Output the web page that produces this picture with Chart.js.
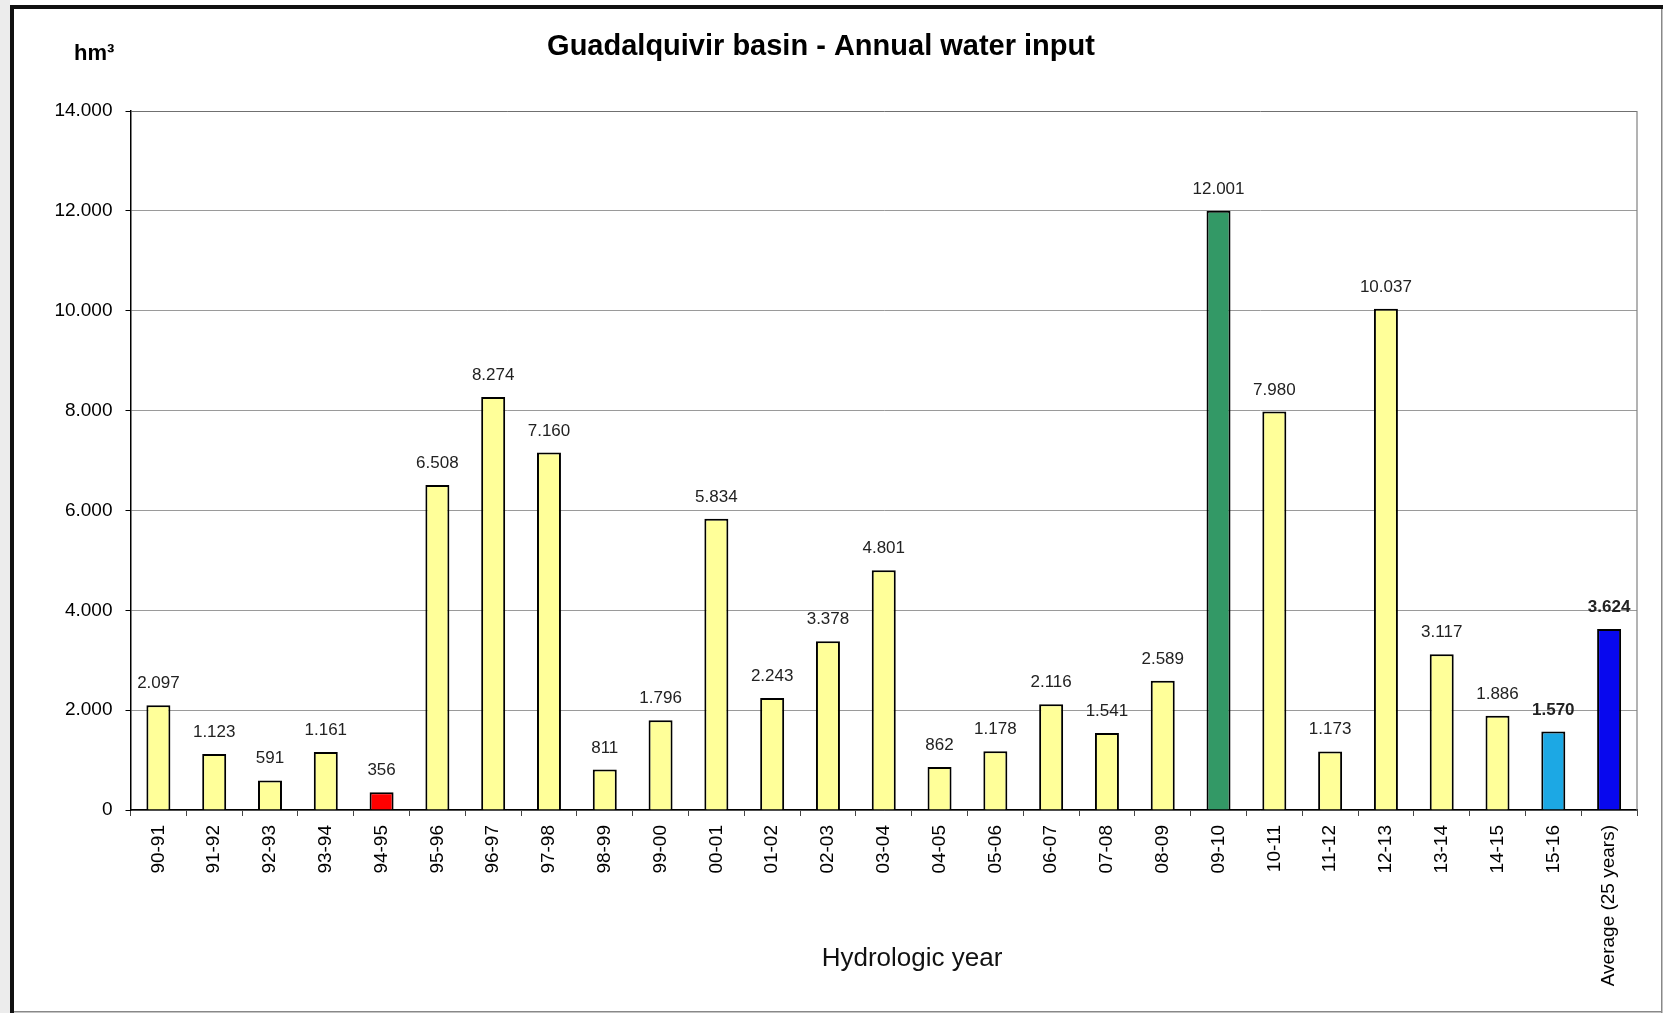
<!DOCTYPE html>
<html><head><meta charset="utf-8">
<script src="https://cdn.jsdelivr.net/npm/chart.js@4.4.1/dist/chart.umd.min.js"></script>
<style>html,body{margin:0;padding:0;background:#fff;overflow:hidden}canvas{display:block}</style>
</head><body>
<canvas id="c" width="1663" height="1013"></canvas>
<script>
const categories = ["90-91","91-92","92-93","93-94","94-95","95-96","96-97","97-98","98-99","99-00",
  "00-01","01-02","02-03","03-04","04-05","05-06","06-07","07-08","08-09","09-10",
  "10-11","11-12","12-13","13-14","14-15","15-16","Average (25 years)"];
const waterInput = [2097,1123,591,1161,356,6508,8274,7160,811,1796,
  5834,2243,3378,4801,862,1178,2116,1541,2589,12001,
  7980,1173,10037,3117,1886,1570,3624];
const yTicks = [0,2000,4000,6000,8000,10000,12000,14000];
const minYear = "94-95", maxYear = "09-10", currentYear = "15-16", averageLabel = "Average (25 years)";
const chartTitle = "Guadalquivir basin - Annual water input";
const yUnit = "hm³";
const xTitle = "Hydrologic year";

const FONT = "'Liberation Sans', Arial, sans-serif";
function fmt(v){ return String(v).replace(/\B(?=(\d{3})+(?!\d))/g, "."); }
function colorFor(cat){
  if (cat === minYear) return "#FF0000";
  if (cat === maxYear) return "#339966";
  if (cat === currentYear) return "#1CA8E4";
  if (cat === averageLabel) return "#0808EE";
  return "#FFFF99";
}

const decor = {
  id: "decor",
  beforeDraw(chart){
    const c = chart.ctx, W = chart.width, H = chart.height;
    c.save();
    c.fillStyle = "#ffffff"; c.fillRect(0,0,W,H);
    c.fillStyle = "#ececec"; c.fillRect(0,0,10,H);
    c.fillStyle = "#111"; c.fillRect(10,5,4,H-5); c.fillRect(10,5,W-10,4);
    c.fillStyle = "#888"; c.fillRect(W-2,9,1.5,H-9); c.fillRect(14,H-2,W-16,1.5);
    c.restore();
  },
  afterDatasetsDraw(chart){
    const c = chart.ctx, meta = chart.getDatasetMeta(0);
    const a = chart.chartArea;
    c.save();
    c.strokeStyle = "#808080"; c.lineWidth = 1.2;
    c.beginPath(); c.moveTo(a.right, a.top); c.lineTo(a.right, a.bottom); c.stroke();
    c.textAlign = "center"; c.textBaseline = "alphabetic"; c.fillStyle = "#222";
    meta.data.forEach((bar, i) => {
      const cat = categories[i];
      const bold = (cat === currentYear || cat === averageLabel);
      c.font = (bold ? "bold " : "") + "17px " + FONT;
      c.fillText(fmt(waterInput[i]), bar.x, bar.y - 17);
    });
    c.restore();
  },
  afterDraw(chart){
    const c = chart.ctx;
    c.save();
    c.fillStyle = "#000"; c.textBaseline = "alphabetic";
    c.font = "bold 29px " + FONT; c.textAlign = "center";
    c.fillText(chartTitle, 821, 55);
    c.font = "bold 22px " + FONT; c.textAlign = "left";
    c.fillText(yUnit, 74, 60);
    c.font = "26px " + FONT; c.textAlign = "center"; c.fillStyle = "#111";
    c.fillText(xTitle, 912, 966);
    c.restore();
  }
};

new Chart(document.getElementById("c"), {
  type: "bar",
  data: {
    labels: categories,
    datasets: [{
      data: waterInput,
      backgroundColor: categories.map(colorFor),
      borderColor: "#000",
      borderWidth: 2,
      barPercentage: 0.43,
      categoryPercentage: 1.0
    }]
  },
  options: {
    responsive: false,
    animation: false,
    devicePixelRatio: 1,
    layout: { padding: { top: 111, left: 20, right: 26, bottom: 0 } },
    plugins: { legend: { display: false }, title: { display: false }, tooltip: { enabled: false } },
    scales: {
      x: {
        offset: true,
        afterFit(s){ s.height = 203; },
        grid: { offset: true, drawOnChartArea: false, drawTicks: true, tickLength: 6, tickColor: "#444", lineWidth: 1 },
        border: { display: true, color: "#000", width: 1.5 },
        ticks: { autoSkip: false, minRotation: 90, maxRotation: 90, padding: 9, color: "#000", font: { family: FONT, size: 19 } }
      },
      y: {
        min: 0, max: 14000,
        afterFit(s){ s.width = 110.5; },
        afterBuildTicks(s){ s.ticks = yTicks.map(v => ({ value: v })); },
        grid: { color: ctx => (ctx.tick && ctx.tick.value === 14000) ? "#707070" : "#9a9a9a", lineWidth: 1, drawTicks: true, tickLength: 5, tickColor: "#000" },
        border: { display: true, color: "#000", width: 1.5 },
        ticks: { padding: 13, color: "#000", font: { family: FONT, size: 19 }, callback: v => fmt(v) }
      }
    }
  },
  plugins: [decor]
});
</script>
</body></html>
